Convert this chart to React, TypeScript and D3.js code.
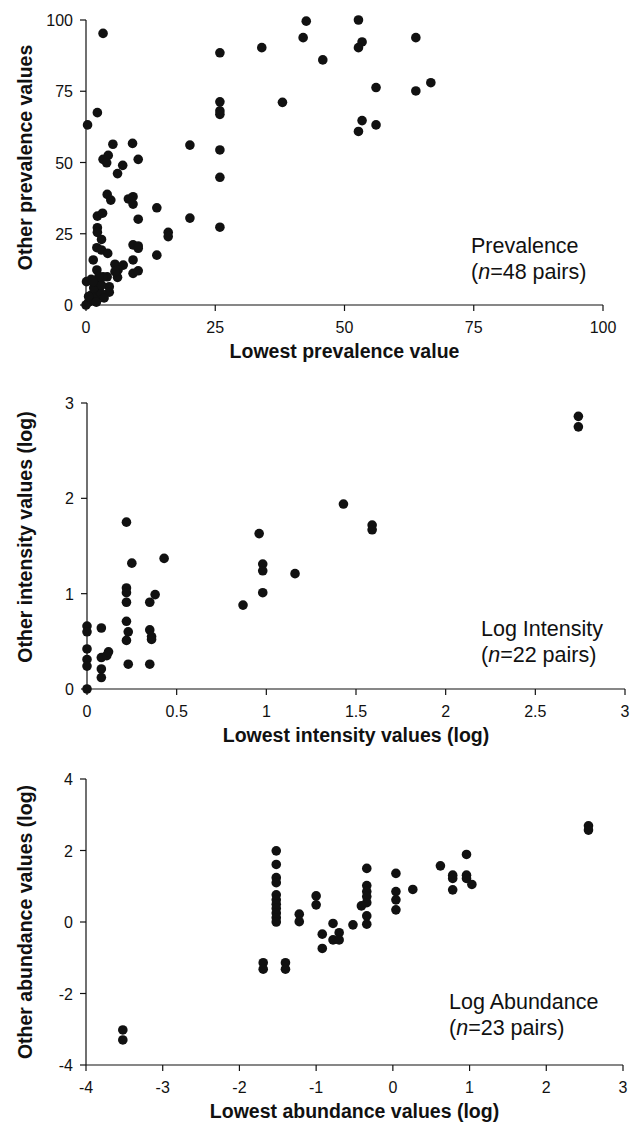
import React from "react";
import * as d3 from "d3";

// Panel 1: prevalence
const prevX = [3.3,2.2,0.3,5.2,9.0,20.1,25.9,25.9,3.3,4.3,4.0,7.1,6.1,10.1,25.9,25.9,25.9,25.9,34.0,38.0,42.0,42.6,52.7,63.8,53.4,52.7,45.8,56.1,66.7,63.8,53.4,56.1,52.7,
  13.7,15.9,15.9,20.1,25.9,13.7,4.1,4.8,8.2,9.1,9.1,10.1,2.2,3.2,2.2,2.2,3.0,2.1,3.0,4.2,1.4,9.1,10.1,10.1,9.1,9.1,10.1,5.6,7.2,6.2,6.1,4.1,2.1,0.1,4.5,4.5,3.3,5.6,
  0,0.5,1,1.5,1,2,2.5,3,0.5,1.5,2,3,1,2.5,1.4,3.5,2];
const prevY = [95.3,67.5,63.2,56.4,56.7,56.1,54.4,44.8,51.1,52.5,49.9,49.0,46.1,51.1,88.5,71.3,68.1,66.9,90.3,71.1,93.8,99.6,100,93.8,92.3,90.3,86.0,76.3,78.0,75.1,64.7,63.2,60.9,
  34.1,25.5,24.0,30.5,27.3,17.5,38.8,36.8,37.2,38.0,35.4,30.1,31.2,32.2,27.1,25.5,23.0,20.1,19.3,18.1,15.8,21.1,20.7,19.9,15.8,11.1,12.0,14.3,14.0,12.3,9.7,9.9,12.3,8.2,6.4,4.5,9.9,11.7,
  0,1,2,1.5,3.5,3,5,4,3,6,8,7,9,10,8.2,2.5,1];

// Panel 2: log intensity
const intX = [0,0,0,0,0,0,0.08,0.08,0.11,0.12,0.08,0.08,0.22,0.25,0.22,0.22,0.22,0.22,0.23,0.22,0.23,0.43,0.35,0.38,0.35,0.36,0.36,0.35,0.87,0.96,0.98,0.98,0.98,1.16,1.43,1.59,1.59,2.74,2.74];
const intY = [0,0.66,0.6,0.42,0.31,0.24,0.64,0.33,0.35,0.39,0.21,0.12,1.75,1.32,1.06,1.01,0.91,0.71,0.6,0.51,0.26,1.37,0.91,0.99,0.62,0.55,0.52,0.26,0.88,1.63,1.31,1.24,1.01,1.21,1.94,1.72,1.67,2.86,2.75];

// Panel 3: log abundance
const abuX = [-3.52,-3.52,-1.52,-1.52,-1.52,-1.52,-1.52,-1.52,-1.52,-1.52,-1.52,-1.52,-1.52,-1.69,-1.69,-1.40,-1.40,-1.22,-1.22,-1.0,-1.0,-0.92,-0.92,-0.78,-0.78,-0.70,-0.70,-0.52,-0.34,-0.34,-0.34,-0.34,-0.34,-0.41,-0.34,-0.34,0.04,0.04,0.04,0.04,0.26,0.62,0.78,0.78,0.78,0.96,0.96,0.96,1.03,2.55,2.55];
const abuY = [-3.02,-3.30,1.99,1.61,1.24,1.10,0.76,0.62,0.5,0.38,0.25,0.12,0.0,-1.14,-1.32,-1.14,-1.32,0.22,0.01,0.73,0.48,-0.34,-0.74,-0.04,-0.5,-0.30,-0.5,-0.08,1.5,1.02,0.85,0.71,0.54,0.45,0.17,-0.06,1.36,0.85,0.62,0.34,0.91,1.57,1.31,1.22,0.9,1.89,1.31,1.22,1.05,2.69,2.57];

const prevTicks = [0, 25, 50, 75, 100];
const intXTicks = [0, 0.5, 1, 1.5, 2, 2.5, 3];
const intYTicks = [0, 1, 2, 3];
const abuXTicks = [-4, -3, -2, -1, 0, 1, 2, 3];
const abuYTicks = [-4, -2, 0, 2, 4];

const FONT = "'Liberation Sans', Arial, sans-serif";
const INK = "#111";

type PanelProps = {
  xs: number[]; ys: number[];
  xDomain: [number, number]; yDomain: [number, number];
  xRange: [number, number]; yRange: [number, number];
  xTicks: number[]; yTicks: number[];
  xTitle: string; yTitle: string; yTitleShift: number;
  label: string; n: string; labelX: number; labelY: number;
};

function Panel(p: PanelProps) {
  const x = d3.scaleLinear().domain(p.xDomain).range(p.xRange);
  const y = d3.scaleLinear().domain(p.yDomain).range(p.yRange);
  const x0 = p.xRange[0], x1 = p.xRange[1];
  const yb = p.yRange[0], yt = p.yRange[1];
  const ymid = (yb + yt) / 2 + p.yTitleShift;
  const xmid = (x0 + x1) / 2;
  return (
    <g>
      <line x1={x0} x2={x1} y1={yb} y2={yb} stroke={INK} strokeWidth={1.2} />
      <line x1={x0} x2={x0} y1={yt} y2={yb} stroke={INK} strokeWidth={1.2} />
      {p.xTicks.map((t) => (
        <g key={"xt" + t}>
          <line x1={x(t)} x2={x(t)} y1={yb} y2={yb + 6} stroke={INK} strokeWidth={1.2} />
          <text x={x(t)} y={yb + 28} textAnchor="middle" fontSize={16} fill={INK} fontFamily={FONT}>{String(t)}</text>
        </g>
      ))}
      {p.yTicks.map((t) => (
        <g key={"yt" + t}>
          <line x1={x0 - 6} x2={x0} y1={y(t)} y2={y(t)} stroke={INK} strokeWidth={1.2} />
          <text x={x0 - 13} y={y(t) + 6} textAnchor="end" fontSize={16} fill={INK} fontFamily={FONT}>{String(t)}</text>
        </g>
      ))}
      {p.xs.map((v, i) => (
        <circle key={i} cx={x(v)} cy={y(p.ys[i])} r={4.8} fill={INK} />
      ))}
      <text x={xmid} y={yb + 53} textAnchor="middle" fontSize={19.5} fontWeight="bold" fill={INK} fontFamily={FONT}>{p.xTitle}</text>
      <text transform={`translate(32,${ymid}) rotate(-90)`} textAnchor="middle" fontSize={19.5} fontWeight="bold" fill={INK} fontFamily={FONT}>{p.yTitle}</text>
      <text x={p.labelX} y={p.labelY} fontSize={21.5} fill={INK} fontFamily={FONT}>{p.label}</text>
      <text x={p.labelX} y={p.labelY + 26} fontSize={21.5} fill={INK} fontFamily={FONT}>
        (<tspan fontStyle="italic">n</tspan>={p.n} pairs)
      </text>
    </g>
  );
}

export default function App() {
  return (
    <svg width={639} height={1124} style={{ position: "absolute", left: 0, top: 0, background: "#fff" }}>
      <rect width={639} height={1124} fill="#fff" />
      <Panel xs={prevX} ys={prevY} xDomain={[0, 100]} yDomain={[0, 100]} xRange={[86, 603]} yRange={[305, 20]}
        xTicks={prevTicks} yTicks={prevTicks} xTitle="Lowest prevalence value" yTitle="Other prevalence values" yTitleShift={-5}
        label="Prevalence" n="48" labelX={471} labelY={253} />
      <Panel xs={intX} ys={intY} xDomain={[0, 3]} yDomain={[0, 3]} xRange={[87, 625]} yRange={[689, 403]}
        xTicks={intXTicks} yTicks={intYTicks} xTitle="Lowest intensity values (log)" yTitle="Other intensity values (log)" yTitleShift={-9}
        label="Log Intensity" n="22" labelX={481} labelY={636} />
      <Panel xs={abuX} ys={abuY} xDomain={[-4, 3]} yDomain={[-4, 4]} xRange={[86, 623]} yRange={[1065, 779]}
        xTicks={abuXTicks} yTicks={abuYTicks} xTitle="Lowest abundance values (log)" yTitle="Other abundance values (log)" yTitleShift={0}
        label="Log Abundance" n="23" labelX={449} labelY={1009} />
    </svg>
  );
}
